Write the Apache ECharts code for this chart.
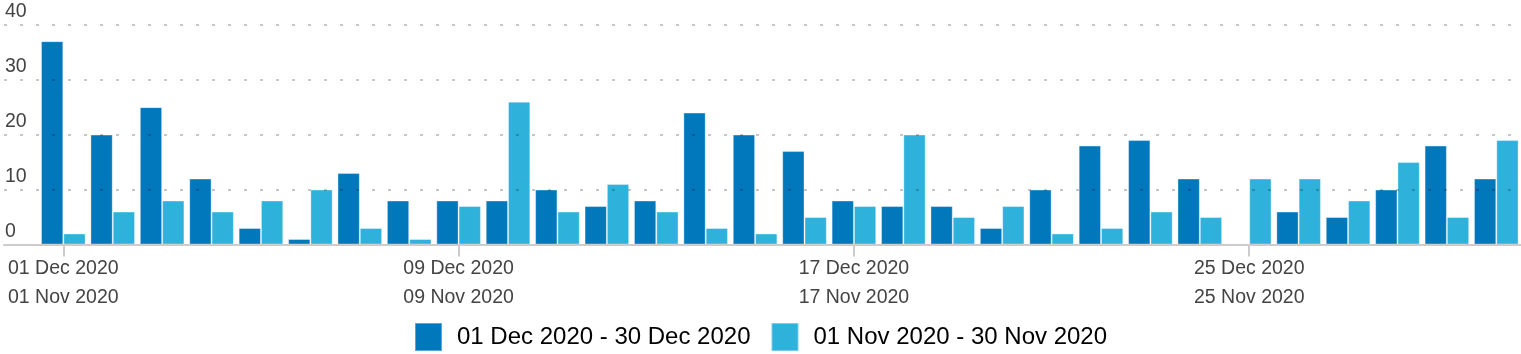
<!DOCTYPE html>
<html>
<head>
<meta charset="utf-8">
<script src="https://cdn.jsdelivr.net/npm/echarts@6/dist/echarts.min.js"></script>
<style>
  html, body { margin: 0; padding: 0; background: #fff; }
  #chart { width: 1521px; height: 354px; }
</style>
</head>
<body>
<div id="chart"></div>
<script>
// day of month, shared by both periods
var days = ['01', '02', '03', '04', '05', '06', '07', '08', '09', '10',
            '11', '12', '13', '14', '15', '16', '17', '18', '19', '20',
            '21', '22', '23', '24', '25', '26', '27', '28', '29', '30'];
var decValues = [37, 20, 25, 12, 3, 1, 13, 8, 8, 8, 10, 7, 8, 24, 20,
                 17, 8, 7, 7, 3, 10, 18, 19, 12, 0, 6, 5, 10, 18, 12];
var novValues = [2, 6, 8, 6, 8, 10, 3, 1, 7, 26, 6, 11, 6, 3, 2,
                 5, 7, 20, 5, 7, 2, 3, 6, 5, 12, 12, 8, 15, 5, 19];
var seriesNames = ['01 Dec 2020 - 30 Dec 2020', '01 Nov 2020 - 30 Nov 2020'];
var yTicks = [0, 10, 20, 30, 40];

var categories = days.map(function (d) {
    return d + ' Dec 2020\n' + d + ' Nov 2020';
});

var font = '"Liberation Sans", Arial, Helvetica, sans-serif';
var chart = echarts.init(document.getElementById('chart'));

var option = {
    animation: false,
    textStyle: {fontFamily: font},
    legend: {
        bottom: 2,
        left: 'center',
        padding: 0,
        icon: 'rect',
        itemWidth: 27,
        itemHeight: 28,
        itemGap: 20,
        textStyle: {fontSize: 24, color: '#000', fontFamily: font, padding: [0, 0, 0, 10]},
        data: seriesNames
    },
    grid: [
        // background grid: dashed lines and base line across the full width
        {left: 4, right: 0, top: 24.7, bottom: 109.5},
        // bars
        {left: 38.6, right: 0, top: 24.7, bottom: 109.5}
    ],
    xAxis: [{
        gridIndex: 0,
        type: 'category',
        data: categories,
        axisLine: {show: true, lineStyle: {color: '#cccccc', width: 2}},
        axisTick: {show: false},
        axisLabel: {show: false},
        z: 3
    }, {
        gridIndex: 1,
        type: 'category',
        data: categories,
        axisLine: {show: false},
        axisTick: {
            show: true, interval: 7, alignWithLabel: true, length: 12,
            lineStyle: {color: '#cccccc', width: 2}
        },
        axisLabel: {
            interval: 7,
            margin: 10,
            fontSize: 19.5,
            lineHeight: 29,
            color: '#444',
            fontFamily: font
        }
    }],
    yAxis: [{
        gridIndex: 0,
        type: 'value',
        min: 0, max: 40, interval: 10,
        z: 3,
        axisLine: {show: false},
        axisTick: {show: false},
        axisLabel: {
            inside: true,
            margin: 1,
            verticalAlign: 'bottom',
            padding: [0, 0, 3, 0],
            fontSize: 19.5,
            color: '#444',
            fontFamily: font,
            formatter: function (v) {
                return yTicks.indexOf(v) >= 0 ? String(v) : '';
            }
        },
        splitLine: {
            show: true,
            lineStyle: {color: 'rgba(0,0,0,0.22)', width: 2, type: [3, 13]}
        }
    }, {
        gridIndex: 1,
        type: 'value',
        min: 0, max: 40, interval: 10,
        show: false
    }],
    series: [{
        name: seriesNames[0],
        type: 'bar',
        xAxisIndex: 1,
        yAxisIndex: 1,
        data: decValues,
        barWidth: 22.3,
        barGap: '0%',
        itemStyle: {color: '#0278bc', borderColor: 'rgba(255,255,255,0.35)', borderWidth: 1}
    }, {
        name: seriesNames[1],
        type: 'bar',
        xAxisIndex: 1,
        yAxisIndex: 1,
        data: novValues,
        barWidth: 22.3,
        barGap: '0%',
        itemStyle: {color: '#2eb2dc', borderColor: 'rgba(255,255,255,0.35)', borderWidth: 1}
    }]
};
chart.setOption(option);
</script>
</body>
</html>
